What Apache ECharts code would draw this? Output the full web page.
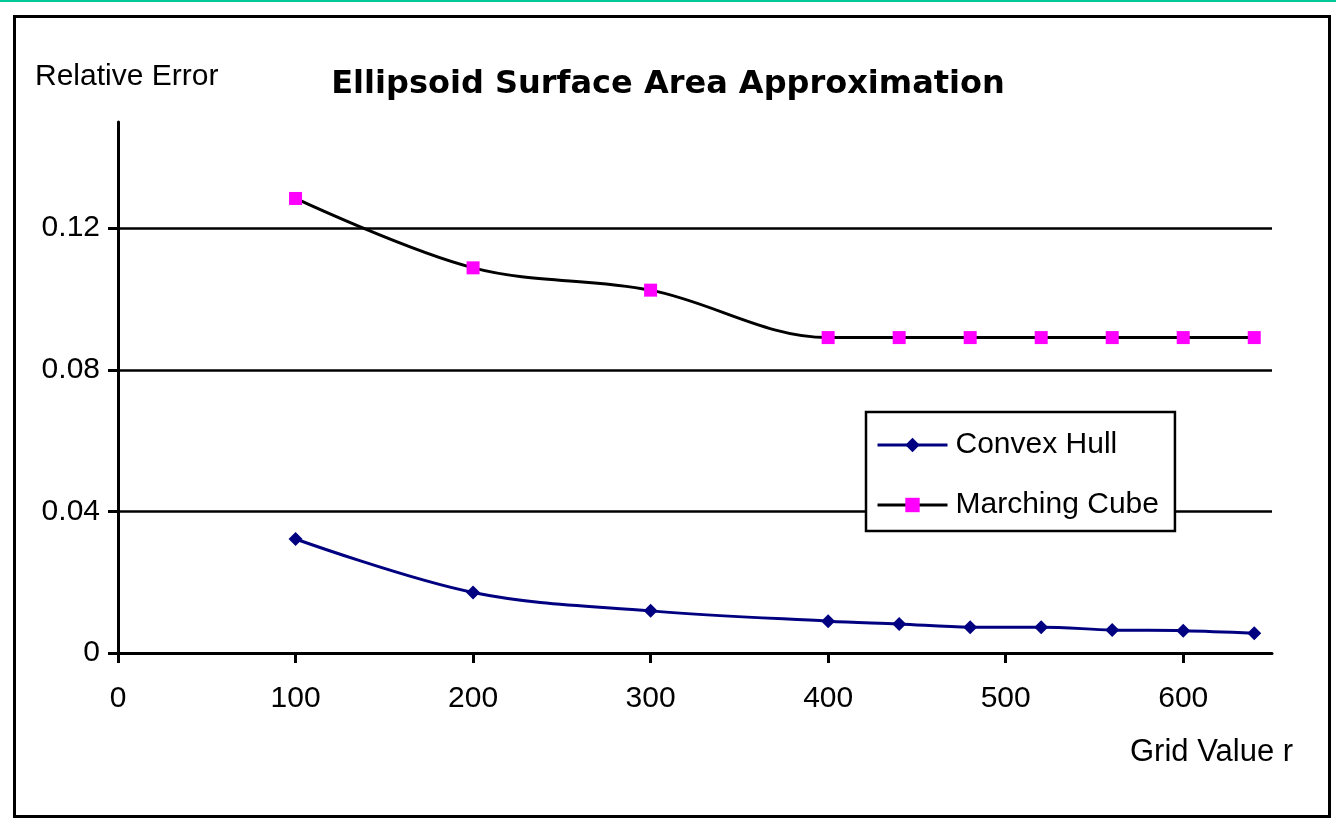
<!DOCTYPE html>
<html>
<head>
<meta charset="utf-8">
<title>Ellipsoid Surface Area Approximation</title>
<script src="https://cdn.jsdelivr.net/npm/echarts@6/dist/echarts.min.js"></script>
<style>
  html, body { margin: 0; padding: 0; background: #fff; }
  #chart { width: 1336px; height: 832px; }
</style>
</head>
<body>
<div id="chart"></div>
<script>
  // grid value r on the x axis
  var gridValues = [100, 200, 300, 400, 440, 480, 520, 560, 600, 640];
  // relative error of each method
  var convexHull = [0.0322, 0.0171, 0.0119, 0.0090, 0.0082, 0.0073, 0.0073, 0.0065, 0.0063, 0.0056];
  var marchingCube = [0.1284, 0.1088, 0.1025, 0.0891, 0.0891, 0.0891, 0.0891, 0.0891, 0.0891, 0.0891];
  var yTicks = [0, 0.04, 0.08, 0.12];
  var xTicks = [0, 100, 200, 300, 400, 500, 600];

  var font = '"Liberation Sans", Arial, sans-serif';

  function pairs(xs, ys) {
    return xs.map(function (x, i) { return [x, ys[i]]; });
  }

  var myChart = echarts.init(document.getElementById('chart'), null, { renderer: 'canvas' });

  var option = {
    backgroundColor: '#fff',
    animation: false,
    title: {
      text: 'Ellipsoid Surface Area Approximation',
      left: 'center',
      top: 64,
      textStyle: { fontFamily: '"DejaVu Sans", sans-serif', fontSize: 32, fontWeight: 'bold', color: '#000' }
    },
    graphic: [
      { type: 'rect', shape: { x: 0, y: 0, width: 1336, height: 2 }, style: { fill: '#00c896' } },
      { type: 'rect', shape: { x: 14.5, y: 16.5, width: 1315, height: 800 },
        style: { fill: 'none', stroke: '#000', lineWidth: 3 } },
      { type: 'text', left: 35, top: 62,
        style: { text: 'Relative Error', font: '30px ' + font, fill: '#000' } },
      { type: 'text', left: 1130, top: 737,
        style: { text: 'Grid Value r', font: '31px ' + font, fill: '#000' } }
    ],
    legend: {
      orient: 'vertical',
      left: 866,
      top: 412,
      backgroundColor: '#fff',
      borderColor: '#000',
      borderWidth: 2.5,
      padding: [18, 16, 11, 10],
      itemWidth: 70,
      itemHeight: 18,
      itemGap: 30,
      lineStyle: { width: 3 },
      textStyle: { fontFamily: font, fontSize: 30, color: '#000', lineHeight: 30, padding: [0, 0, 0, 3] },
      data: ['Convex Hull', 'Marching Cube']
    },
    grid: { left: 118, right: 64, top: 122, bottom: 179, containLabel: false },
    xAxis: {
      type: 'value',
      min: 0,
      max: 650,
      interval: 100,
      axisLine: { lineStyle: { color: '#000', width: 3 } },
      axisTick: { show: true, length: 10, customValues: xTicks, lineStyle: { color: '#000', width: 3 } },
      axisLabel: { customValues: xTicks, margin: 31, fontFamily: font, fontSize: 30, color: '#000' },
      splitLine: { show: false }
    },
    yAxis: {
      type: 'value',
      min: 0,
      max: 0.15,
      interval: 0.04,
      axisLine: { show: true, lineStyle: { color: '#000', width: 3 } },
      axisTick: { show: true, length: 10, customValues: yTicks, lineStyle: { color: '#000', width: 3 } },
      axisLabel: { customValues: yTicks, margin: 18, fontFamily: font, fontSize: 30, color: '#000' },
      splitLine: { show: true, showMinLine: false, lineStyle: { color: '#000', width: 2.5 } }
    },
    series: [
      {
        name: 'Convex Hull',
        type: 'line',
        smooth: 0.35,
        data: pairs(gridValues, convexHull),
        symbol: 'diamond',
        symbolSize: 14,
        itemStyle: { color: '#000080' },
        lineStyle: { color: '#000080', width: 3 }
      },
      {
        name: 'Marching Cube',
        type: 'line',
        smooth: 0.35,
        data: pairs(gridValues, marchingCube),
        symbol: 'rect',
        symbolSize: 13,
        itemStyle: { color: '#ff00ff' },
        lineStyle: { color: '#000', width: 3 }
      }
    ]
  };

  myChart.setOption(option);
  window.addEventListener('resize', function () {
    myChart.resize();
  });
</script>
</body>
</html>
